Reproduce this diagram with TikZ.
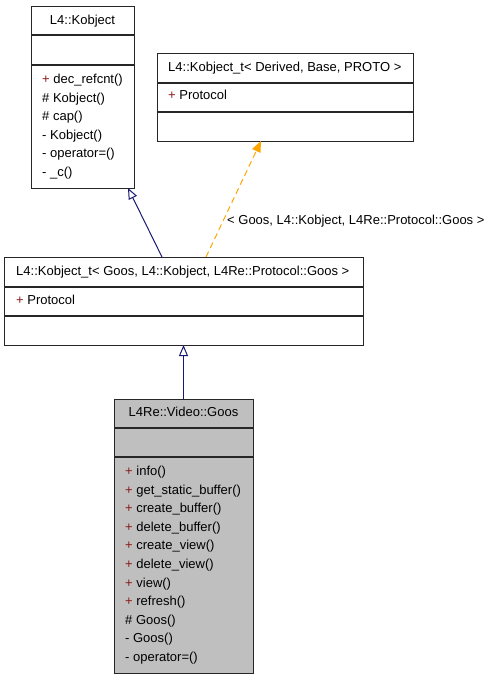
\documentclass[tikz,border=0pt]{standalone}
\usepackage{fontspec}
\setmainfont{Liberation Sans}
\usetikzlibrary{arrows.meta}
\definecolor{midnight}{HTML}{191970}
\definecolor{plusred}{HTML}{8B1A1A}
\definecolor{boxgray}{HTML}{BFBFBF}
\definecolor{edgeorange}{HTML}{FFA500}
\newcommand\fsz{\fontsize{13}{15}\selectfont}
\newcommand\pl{\textcolor{plusred}{+}}
\tikzset{
  umlbox/.style={draw=black!85, line width=1pt, inner sep=0pt, anchor=north west},
  sepline/.style={draw=black!85, line width=1.4pt},
  txt/.style={anchor=base west, inner sep=0pt, font=\fsz},
  ctxt/.style={anchor=base, inner sep=0pt, font=\fsz},
  inh/.style={draw=midnight, line width=1pt, -{Triangle[open, length=11pt, width=9pt]}},
  tmpl/.style={draw=edgeorange, line width=1pt, dash pattern=on 6pt off 4pt, -{Triangle[length=11pt, width=9pt, fill=edgeorange]}},
}
\begin{document}
\begin{tikzpicture}[x=1pt, y=-1pt]
\useasboundingbox (0,0) rectangle (493,680);

% L4::Kobject
\node[umlbox, minimum width=103pt, minimum height=182pt] (kob) at (31,6) {};
\draw[sepline] (31,35) -- (134,35);
\draw[sepline] (31,65) -- (134,65);
\node[ctxt] (kobt) at (82.5,24.5) {L4::Kobject};
\foreach \t [count=\i] in {\pl{} dec\_refcnt(), \# Kobject(), \# cap(), - Kobject(), - operator=(), - \_c()}
  \node[txt] (kobm\i) at (42,83.5+18.6*\i-18.6) {\t};

% L4::Kobject_t< Derived, Base, PROTO >
\node[umlbox, minimum width=256pt, minimum height=88pt] (kt) at (157,53) {};
\draw[sepline] (157,83) -- (413,83);
\draw[sepline] (157,112) -- (413,112);
\node[txt] (ktt) at (168,71.5) {L4::Kobject\_t< Derived, Base, PROTO >};
\node[txt] (ktm1) at (168,99.5) {\pl{} Protocol};

% L4::Kobject_t< Goos, ... >
\node[umlbox, minimum width=359pt, minimum height=88pt] (ktg) at (4,257) {};
\draw[sepline] (4,287) -- (363,287);
\draw[sepline] (4,316) -- (363,316);
\node[txt] (ktgt) at (16,275.5) {L4::Kobject\_t< Goos, L4::Kobject, L4Re::Protocol::Goos >};
\node[txt] (ktgm1) at (16,304.5) {\pl{} Protocol};

% L4Re::Video::Goos
\node[umlbox, fill=boxgray, minimum width=139pt, minimum height=274pt] (goos) at (114,399) {};
\draw[sepline] (114,428) -- (253,428);
\draw[sepline] (114,457) -- (253,457);
\node[ctxt] (goost) at (183.5,416.5) {L4Re::Video::Goos};
\foreach \t [count=\i] in {\pl{} info(), \pl{} get\_static\_buffer(), \pl{} create\_buffer(), \pl{} delete\_buffer(), \pl{} create\_view(), \pl{} delete\_view(), \pl{} view(), \pl{} refresh(), \# Goos(), - Goos(), - operator=()}
  \node[txt] (goosm\i) at (125,475.5+18.6*\i-18.6) {\t};

% connectors
\coordinate (ktgtopA) at (162,257);
\coordinate (kobbot) at (128,188);
\coordinate (ktgtopB) at (206,257);
\coordinate (ktbot) at (261,141);
\coordinate (goostop) at (183.5,399);
\coordinate (ktgbot) at (183.5,345);
\draw[inh] (ktgtopA) -- (kobbot);
\draw[tmpl] (ktgtopB) -- (ktbot);
\draw[inh] (goostop) -- (ktgbot);
\node[txt] (lbl) at (227,224.5) {< Goos, L4::Kobject, L4Re::Protocol::Goos >};
\end{tikzpicture}
\end{document}
